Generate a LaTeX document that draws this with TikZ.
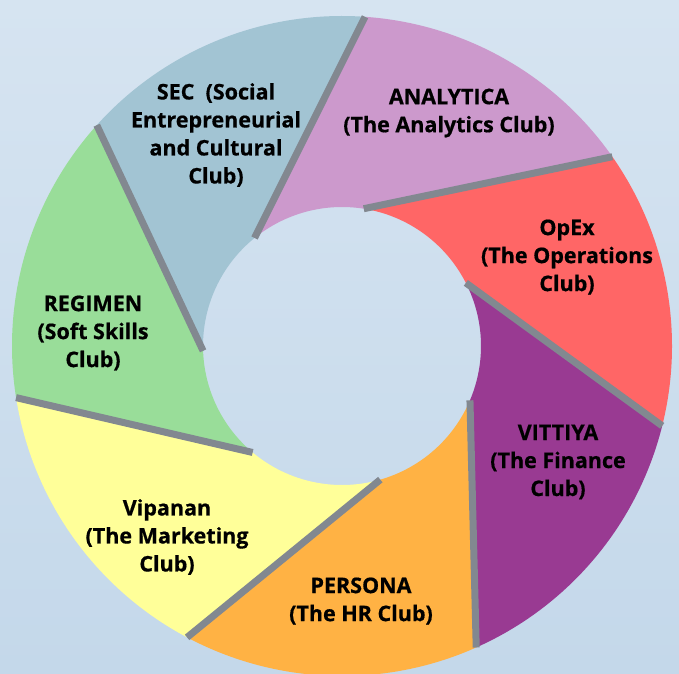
\documentclass[tikz,border=0pt]{standalone}
\usepackage{fontspec}
\setmainfont{Open Sans}
\newfontfamily\clubfont{Open Sans}[BoldFeatures={FakeBold=0.6}]
\usetikzlibrary{shapes.geometric}

\definecolor{bgtop}{RGB}{214,228,241}
\definecolor{bgbottom}{RGB}{196,216,234}
\definecolor{divgray}{RGB}{130,136,144}
\definecolor{secfill}{RGB}{162,196,211}
\definecolor{analyticafill}{RGB}{204,153,204}
\definecolor{opexfill}{RGB}{255,102,102}
\definecolor{vittiyafill}{RGB}{153,58,146}
\definecolor{personafill}{RGB}{255,178,68}
\definecolor{vipananfill}{RGB}{255,255,153}
\definecolor{regimenfill}{RGB}{153,221,153}

\tikzstyle{divider} = [line width=7pt, draw=divgray]
\tikzstyle{club} = [font=\clubfont\bfseries\fontsize{21.5}{28}\selectfont, align=center, text=black]

\begin{document}
\begin{tikzpicture}[x=1pt, y=1pt]
        \shade[top color=bgtop, bottom color=bgbottom] (0,0) rectangle (679,673);
        \useasboundingbox (0,0) rectangle (679,673);
        \begin{scope}[shift={(342,327)}]
            % inner and outer ends of the dividers
            \coordinate (in1) at (129:139);   \coordinate (out1) at (86:330);
            \coordinate (in2) at (81:139);    \coordinate (out2) at (35:330);
            \coordinate (in3) at (27:139);    \coordinate (out3) at (-14:330);
            \coordinate (in4) at (-23:139);   \coordinate (out4) at (-66:330);
            \coordinate (in5) at (-74:139);   \coordinate (out5) at (-118:330);
            \coordinate (in6) at (-130:139);  \coordinate (out6) at (-171:330);
            \coordinate (in7) at (-178:139);  \coordinate (out7) at (138:330);
            % ring segments
            \fill[analyticafill] (out1) arc[start angle=86, end angle=35, radius=330] -- (in2) arc[start angle=81, end angle=129, radius=139] -- cycle;
            \fill[opexfill] (out2) arc[start angle=35, end angle=-14, radius=330] -- (in3) arc[start angle=27, end angle=81, radius=139] -- cycle;
            \fill[vittiyafill] (out3) arc[start angle=-14, end angle=-66, radius=330] -- (in4) arc[start angle=-23, end angle=27, radius=139] -- cycle;
            \fill[personafill] (out4) arc[start angle=-66, end angle=-118, radius=330] -- (in5) arc[start angle=-74, end angle=-23, radius=139] -- cycle;
            \fill[vipananfill] (out5) arc[start angle=-118, end angle=-171, radius=330] -- (in6) arc[start angle=-130, end angle=-74, radius=139] -- cycle;
            \fill[regimenfill] (out6) arc[start angle=-171, end angle=-222, radius=330] -- (in7) arc[start angle=-178, end angle=-130, radius=139] -- cycle;
            \fill[secfill] (out7) arc[start angle=138, end angle=86, radius=330] -- (in1) arc[start angle=129, end angle=182, radius=139] -- cycle;
            % dividers
            \draw [divider] (in1) -- (out1);
            \draw [divider] (in2) -- (out2);
            \draw [divider] (in3) -- (out3);
            \draw [divider] (in4) -- (out4);
            \draw [divider] (in5) -- (out5);
            \draw [divider] (in6) -- (out6);
            \draw [divider] (in7) -- (out7);
        \end{scope}
        \node (sec) [club] at (216,538) {SEC~~(Social\\Entrepreneurial\\and Cultural\\Club)};
        \node (analytica) [club] at (449,560) {ANALYTICA\\(The Analytics Club)};
        \node (opex) [club] at (567,416) {OpEx\\(The Operations\\Club)};
        \node (vittiya) [club] at (558,211) {VITTIYA\\(The Finance\\Club)};
        \node (persona) [club] at (361,72) {PERSONA\\(The HR Club)};
        \node (vipanan) [club] at (167,136) {Vipanan\\(The Marketing\\Club)};
        \node (regimen) [club] at (93,340) {REGIMEN\\(Soft Skills\\Club)};
    \end{tikzpicture}
\end{document}
